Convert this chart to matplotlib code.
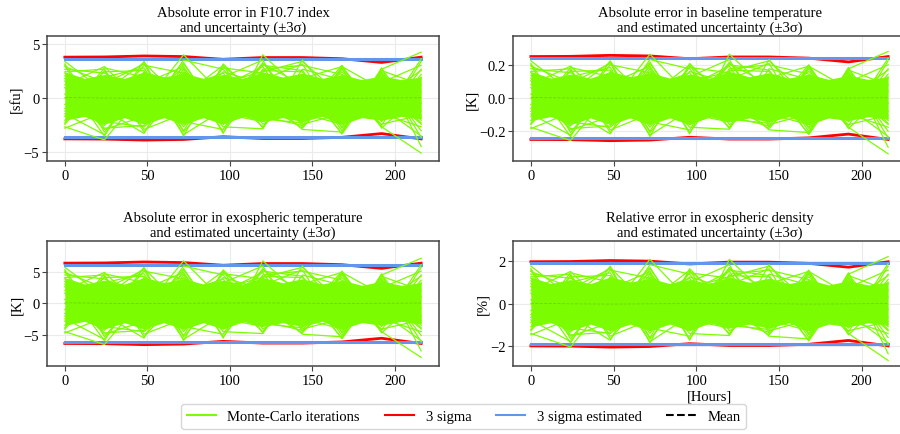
import matplotlib
matplotlib.use("Agg")
import matplotlib.pyplot as plt
import numpy as np
from matplotlib.lines import Line2D

plt.rcParams['font.family'] = ['Liberation Serif', 'DejaVu Serif']
plt.rcParams['mathtext.fontset'] = 'stix'

# ---------------- data ----------------
hours = [0, 24, 48, 72, 96, 120, 144, 168, 192, 216]

titles = ["Absolute error in F10.7 index\nand uncertainty (±3σ)",
          "Absolute error in baseline temperature\nand estimated uncertainty (±3σ)",
          "Absolute error in exospheric temperature\nand estimated uncertainty (±3σ)",
          "Relative error in exospheric density\nand estimated uncertainty (±3σ)"]
ylabels = ["[sfu]", "[K]", "[K]", "[%]"]

# estimated 3-sigma level of each panel (blue line)
sigma3_estimated = [3.65, 0.243, 6.1, 1.9]
# Monte-Carlo 3-sigma (red), relative to the estimated level
sigma3_ratio = [1.04, 1.045, 1.07, 1.055, 0.985, 1.03, 1.03, 1.0, 0.905, 1.04]
# sample mean (in sigma units)
mean_norm = [0.04, 0.0, -0.02, 0.0, 0.02, 0.03, 0.01, -0.02, 0.0, 0.02]

ylims = [(-5.85, 5.76), (-0.384, 0.378), (-9.9, 9.84), (-2.92, 2.95)]
yticks = [[-5, 0, 5], [-0.2, 0.0, 0.2], [-5, 0, 5], [-2, 0, 2]]

# Monte-Carlo iterations (in units of estimated sigma)
mc_runs = [
    [2.8, 0.5, 2.7, -0.3, 1.2, 2.0, 2.8, 0.1, -1.0, 1.5],
    [-2.2, -3.2, 0.4, 1.5, -0.6, 0.8, -1.8, 2.4, 0.7, -2.0],
    [1.0, 2.4, -0.5, 3.3, 0.2, -1.2, 0.9, -2.7, 2.2, 3.5],
    [0.3, -1.5, 2.8, -2.9, 2.6, -0.4, -2.3, 1.1, -2.2, -4.2],
    [2.5, -2.6, 1.1, 2.4, -2.7, 3.3, 0.5, -1.5, 1.8, -1.0],
    [-1.9, 2.1, -2.6, 0.8, 1.9, -2.3, 2.9, -0.8, -1.6, 3.0],
    [1.7, -0.9, -2.7, 2.6, -1.5, 2.7, -1.0, 2.5, -2.3, 0.5],
    [-0.5, 1.6, 2.3, -2.5, 2.4, 0.2, -2.4, -2.6, 2.3, -3.7],
    [2.2, 1.9, 0.3, -1.8, -2.4, 2.2, 2.5, 1.8, 0.1, 2.1],
    [-2.3, -1.1, 2.5, 1.9, 0.6, -2.2, 1.3, -2.75, 1.5, -2.5],
    [0.8, -2.4, -1.4, 2.9, 2.2, -1.6, -1.9, 2.2, -1.8, 1.8],
    [-1.4, 2.3, 1.6, -2.8, -0.9, 2.5, 2.1, -1.9, 2.0, -1.7],
    [2.6, -1.8, -2.2, 0.2, 2.5, -2.0, -0.3, 2.0, -0.7, -2.9],
    [-1.0, 0.9, -1.8, 2.2, -2.6, 1.4, 2.6, -2.3, 1.2, 2.5],
    [1.3, -2.9, 2.0, -2.2, 1.6, 2.9, -2.2, 0.7, -2.0, -1.3],
    [-2.0, 1.4, -0.9, 2.7, -1.9, -1.0, 1.8, -2.5, 2.1, 1.0],
    [2.0, 2.2, -2.4, -1.2, 2.0, 1.1, -1.5, 2.3, -1.2, -2.2],
    [0.0, -2.1, 1.9, 1.2, -2.2, -2.35, 2.2, 1.4, -2.1, 2.8],
    [-1.7, 1.1, 2.6, -2.6, 0.9, 2.4, -2.0, -1.2, 1.7, -0.4],
    [1.9, -1.2, -0.1, 2.3, -1.2, -1.8, 1.5, 2.4, -1.4, 1.6],
    [-1.2, -2.8, 1.4, -1.0, 2.3, 1.9, -1.2, -2.0, 0.9, -1.9],
    [2.4, 1.2, -1.6, 1.6, -2.0, 2.1, 2.0, -1.0, 1.9, -3.0],
    [-0.8, 2.0, 2.1, -2.0, 1.4, -1.4, -2.1, 1.7, -1.7, 2.2],
    [1.5, -2.3, -2.1, 2.0, -0.3, 2.6, 1.0, -2.2, 2.2, -1.5],
]

# dense core of the Monte-Carlo cloud (sigma units, every 12 h)
core_hours = [0, 12, 24, 36, 48, 60, 72, 84, 96, 108, 120, 132, 144, 156, 168, 180, 192, 204, 216]
core_hi = [2.0, 1.5, 1.8, 1.5, 2.0, 1.6, 1.9, 1.5, 1.8, 1.5, 2.0, 1.6, 1.9, 1.5, 1.8, 1.4, 1.7, 1.4, 1.6]
core_lo = [-1.7, -1.4, -2.0, -1.5, -2.0, -1.5, -2.0, -1.5, -2.0, -1.4, -1.8, -1.5, -1.8, -1.4, -2.0, -1.5, -1.7, -1.4, -1.6]

# ---------------- figure ----------------
fig = plt.figure(figsize=(9, 4.35), dpi=100)
W, H = 900.0, 435.0
boxes = [(47, 37, 439, 162), (513, 37, 906, 162), (47, 242, 439, 367), (513, 242, 906, 367)]

green = '#7cfc00'
for i, (x0, y0, x1, y1) in enumerate(boxes):
    ax = fig.add_axes([x0 / W, 1 - y1 / H, (x1 - x0) / W, (y1 - y0) / H])
    s = sigma3_estimated[i] / 3.0
    h = np.array(hours)
    red = np.array(sigma3_ratio) * sigma3_estimated[i]
    ax.plot(h, red, color='red', lw=2.0, zorder=2)
    ax.plot(h, -red, color='red', lw=2.0, zorder=2)
    ax.plot(h, [sigma3_estimated[i]] * len(h), color='cornflowerblue', lw=2.2, zorder=2.5)
    ax.plot(h, [-sigma3_estimated[i]] * len(h), color='cornflowerblue', lw=2.2, zorder=2.5)
    ax.fill_between(core_hours, np.array(core_lo) * s, np.array(core_hi) * s,
                    color=green, lw=0, zorder=3)
    for run in mc_runs:
        ax.plot(h, np.array(run) * s, color=green, lw=0.9, zorder=3)
    ax.plot(h, np.array(mean_norm) * s, color='black', ls='--', lw=0.6, alpha=0.15, zorder=4)

    ax.set_xlim(-10.8, 226.8)
    ax.set_ylim(*ylims[i])
    ax.set_xticks([0, 50, 100, 150, 200])
    ax.set_yticks(yticks[i])
    if i == 1:
        ax.set_yticklabels(['−0.2', '0.0', '0.2'])
    ax.grid(True, color='#ebebeb', lw=0.8, zorder=0)
    ax.set_axisbelow(True)
    for sp in ax.spines.values():
        sp.set_color('#444444')
        sp.set_linewidth(1.1)
    ax.tick_params(labelsize=10.5, length=3.5, color='#444444', pad=2)
    ax.set_title(titles[i], fontsize=10.5, pad=4, linespacing=1.1)
    ax.set_ylabel(ylabels[i], fontsize=10.5, labelpad=0)
    if i == 3:
        ax.set_xlabel('[Hours]', fontsize=10.5, labelpad=2)

handles = [Line2D([], [], color=green, lw=1.5),
           Line2D([], [], color='red', lw=1.5),
           Line2D([], [], color='cornflowerblue', lw=1.5),
           Line2D([], [], color='black', lw=1.5, ls='--')]
labels = ['Monte-Carlo iterations', '3 sigma', '3 sigma estimated', 'Mean']
fig.legend(handles, labels, loc='center', bbox_to_anchor=(0.515, 0.041), ncol=4,
           fontsize=10.5, frameon=True, edgecolor='#cccccc', fancybox=True,
           handlelength=2.0, columnspacing=1.7, borderpad=0.4)

fig.savefig('out.png', dpi=100)
